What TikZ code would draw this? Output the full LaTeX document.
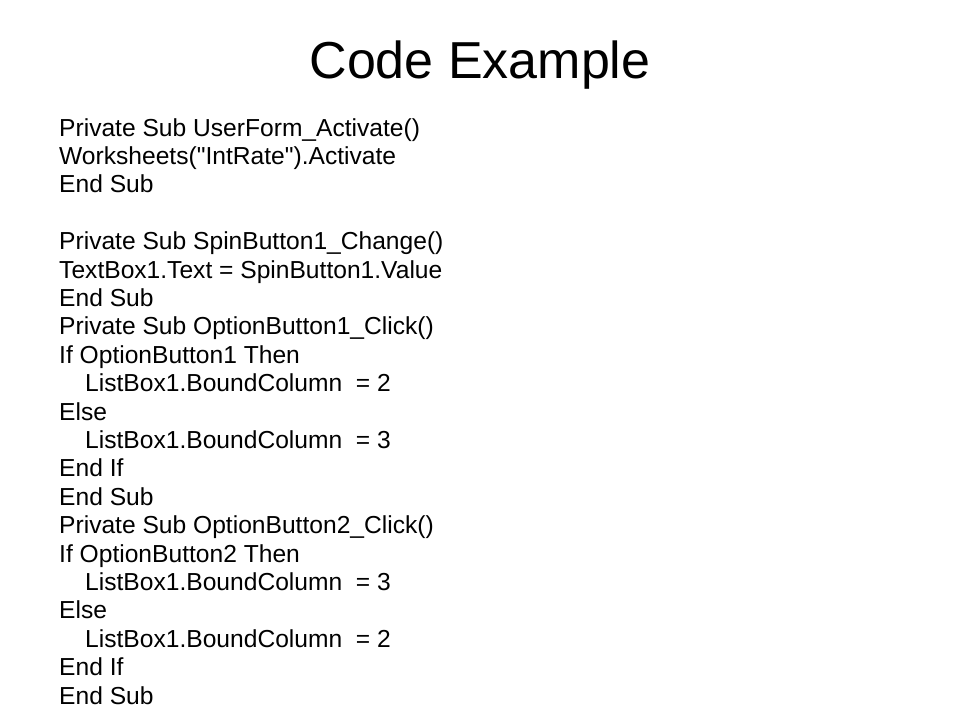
\documentclass[tikz,border=0pt]{standalone}
\usepackage{fontspec}
\setmainfont{Liberation Sans}
\usetikzlibrary{positioning}

\begin{document}
\begin{tikzpicture}[
    x=1pt, y=1pt,
    slidetitle/.style={
        anchor=base,
        inner sep=0pt,
        font=\fontsize{52}{60}\selectfont
    },
    codeline/.style={
        anchor=base west,
        inner sep=0pt,
        font=\fontsize{24.6}{28}\selectfont
    }
]
\useasboundingbox (0,0) rectangle (960,-720);

% Titulo
\node[slidetitle] (titulo) at (480,-78) {Code Example};

% Lineas de codigo (indice / sangria / texto)
\foreach \i/\ind/\txt in {
    0/0/{Private Sub UserForm\_Activate()},
    1/0/{Worksheets(\textquotedbl IntRate\textquotedbl).Activate},
    2/0/{End Sub},
    4/0/{Private Sub SpinButton1\_Change()},
    5/0/{TextBox1.Text = SpinButton1.Value},
    6/0/{End Sub},
    7/0/{Private Sub OptionButton1\_Click()},
    8/0/{If OptionButton1 Then},
    9/1/{ListBox1.BoundColumn \ = 2},
    10/0/{Else},
    11/1/{ListBox1.BoundColumn \ = 3},
    12/0/{End If},
    13/0/{End Sub},
    14/0/{Private Sub OptionButton2\_Click()},
    15/0/{If OptionButton2 Then},
    16/1/{ListBox1.BoundColumn \ = 3},
    17/0/{Else},
    18/1/{ListBox1.BoundColumn \ = 2},
    19/0/{End If},
    20/0/{End Sub}}
{
    \node[codeline] (linea\i) at ({59+26*\ind},{-136-28.4*\i}) {\txt};
}

\end{tikzpicture}
\end{document}
